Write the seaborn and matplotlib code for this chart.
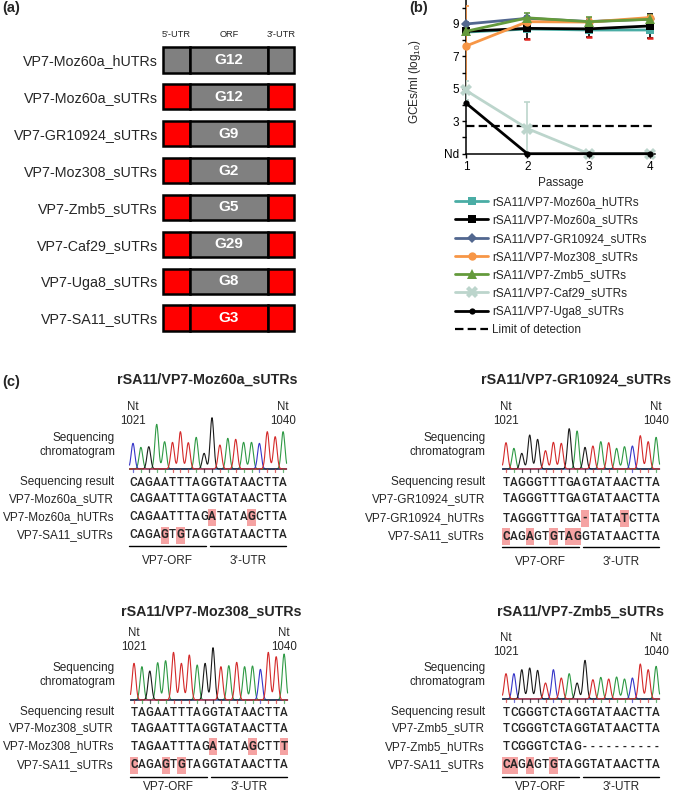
import numpy as np
import pandas as pd
import matplotlib
matplotlib.use("Agg")
import matplotlib.pyplot as plt
from matplotlib.patches import Rectangle
import seaborn as sns

# ---------------- data: panel (a) ----------------
constructs = ["VP7-Moz60a_hUTRs", "VP7-Moz60a_sUTRs", "VP7-GR10924_sUTRs", "VP7-Moz308_sUTRs",
              "VP7-Zmb5_sUTRs", "VP7-Caf29_sUTRs", "VP7-Uga8_sUTRs", "VP7-SA11_sUTRs"]
genotypes = ["G12", "G12", "G9", "G2", "G5", "G29", "G8", "G3"]
utr_origin = ["heterologous", "SA11", "SA11", "SA11", "SA11", "SA11", "SA11", "SA11"]
orf_origin = ["heterologous"] * 7 + ["SA11"]
segment_names = ["5'-UTR", "ORF", "3'-UTR"]

# ---------------- data: panel (b) ----------------
passages = [1, 2, 3, 4]
series_names = ["rSA11/VP7-Moz60a_hUTRs", "rSA11/VP7-Moz60a_sUTRs", "rSA11/VP7-GR10924_sUTRs",
                "rSA11/VP7-Moz308_sUTRs", "rSA11/VP7-Zmb5_sUTRs", "rSA11/VP7-Caf29_sUTRs",
                "rSA11/VP7-Uga8_sUTRs"]
titer_moz60a_h = [8.50, 8.69, 8.63, 8.63]
titer_moz60a_s = [8.55, 8.73, 8.70, 8.88]
titer_gr10924 = [9.00, 9.35, 9.15, 9.30]
titer_moz308 = [7.64, 9.14, 9.12, 9.40]
titer_zmb5 = [8.55, 9.38, 9.14, 9.29]
titer_caf29 = [4.90, 2.55, 1.0, 1.0]
titer_uga8 = [4.12, 1.0, 1.0, 1.0]
err_moz60a_h = [0.10, 0.10, 0.10, 0.15]
err_moz60a_s = [0.15, 0.65, 0.50, 0.75]
err_gr10924 = [0.10, 0.15, 0.10, 0.10]
err_moz308 = [2.50, 0.20, 0.25, 0.15]
err_zmb5 = [0.25, 0.30, 0.30, 0.25]
err_caf29 = [0.60, 1.65, 0.0, 0.0]
err_uga8 = [0.0, 0.0, 0.0, 0.0]
limit_of_detection = 2.7
ytick_labels = ["Nd", "", "3", "", "5", "", "7", "", "9", ""]

# ---------------- data: panel (c) ----------------
seq_titles = ["rSA11/VP7-Moz60a_sUTRs", "rSA11/VP7-GR10924_sUTRs",
              "rSA11/VP7-Moz308_sUTRs", "rSA11/VP7-Zmb5_sUTRs"]
labels_moz60a = ["Sequencing result", "VP7-Moz60a_sUTR", "VP7-Moz60a_hUTRs", "VP7-SA11_sUTRs"]
seqs_moz60a = ["CAGAATTTAGGTATAACTTA", "CAGAATTTAGGTATAACTTA",
               "CAGAATTTAGATATAGCTTA", "CAGAGTGTAGGTATAACTTA"]
mism_moz60a = [[], [], [10, 15], [4, 6]]
peaks_moz60a = [77, 65, 67, 134, 82, 80, 112, 79, 95, 47, 154, 72, 92, 89, 80, 80, 77, 112, 97, 112]

labels_gr10924 = ["Sequencing result", "VP7-GR10924_sUTR", "VP7-GR10924_hUTRs", "VP7-SA11_sUTRs"]
seqs_gr10924 = ["TAGGGTTTGAGTATAACTTA", "TAGGGTTTGAGTATAACTTA",
                "TAGGGTTTGA-TATATCTTA", "CAGAGTGTAGGTATAACTTA"]
mism_gr10924 = [[], [], [10, 15], [0, 3, 6, 8, 9]]
peaks_gr10924 = [79, 62, 47, 102, 89, 55, 80, 77, 121, 114, 65, 69, 82, 79, 62, 67, 69, 100, 82, 95]

labels_moz308 = ["Sequencing result", "VP7-Moz308_sUTR", "VP7-Moz308_hUTRs", "VP7-SA11_sUTRs"]
seqs_moz308 = ["TAGAATTTAGGTATAACTTA", "TAGAATTTAGGTATAACTTA",
               "TAGAATTTAGATATAGCTTT", "CAGAGTGTAGGTATAACTTA"]
mism_moz308 = [[], [], [10, 15, 19], [0, 4, 6]]
peaks_moz308 = [110, 100, 87, 112, 118, 143, 110, 135, 105, 110, 157, 100, 103, 113, 100, 102, 92, 143, 130, 138]

labels_zmb5 = ["Sequencing result", "VP7-Zmb5_sUTR", "VP7-Zmb5_hUTRs", "VP7-SA11_sUTRs"]
seqs_zmb5 = ["TCGGGTCTAGGTATAACTTA", "TCGGGTCTAGGTATAACTTA",
             "TCGGGTCTAG----------", "CAGAGTGTAGGTATAACTTA"]
mism_zmb5 = [[], [], [], [0, 1, 3, 6]]
peaks_zmb5 = [76, 76, 88, 93, 86, 48, 88, 63, 76, 48, 116, 58, 65, 60, 66, 60, 63, 105, 88, 98]

nt_start, nt_end = 1021, 1040
region_labels = ["VP7-ORF", "3\u2018-UTR"]
orf_length = 10

# ---------------- style ----------------
sns.set_style("white")
plt.rcParams["font.family"] = ["Liberation Sans", "DejaVu Sans"]
plt.rcParams["mathtext.default"] = "regular"

W, H = 673, 795
fig = plt.figure(figsize=(W / 100, H / 100), dpi=100)

RED = "#FF0000"
GRAY = "#808080"

# full-figure canvas in pixel units (for panel labels and panel c)
canvas = fig.add_axes([0, 0, 1, 1], zorder=0)
canvas.set_xlim(0, W)
canvas.set_ylim(H, 0)
canvas.axis("off")
canvas.patch.set_alpha(0)

for lab, (x, y) in zip(["(a)", "(b)", "(c)"], [(2, 8), (409, 8), (2, 382)]):
    canvas.text(x, y, lab, fontsize=10.5, fontweight="bold", ha="left", va="center")

# ---------------- panel (a) ----------------
row_px = 36.86
axA = fig.add_axes([163 / W, 1 - (318 + row_px / 2) / H, 131 / W, (318 - 60 + row_px) / H])
rows = np.arange(len(constructs))
utr_cols = [RED if o == "SA11" else GRAY for o in utr_origin]
orf_cols = [RED if o == "SA11" else GRAY for o in orf_origin]
seg_left = [0, 27, 105]
seg_width = [27, 78, 26]
seg_cols = [utr_cols, orf_cols, utr_cols]
for left, width, cols in zip(seg_left, seg_width, seg_cols):
    axA.barh(rows, width, left=left, height=0.68, color=cols, edgecolor="black",
             linewidth=1.8, clip_on=False)
for r, g in zip(rows, genotypes):
    axA.text(seg_left[1] + seg_width[1] / 2, r, g, ha="center", va="center",
             color="white", fontweight="bold", fontsize=11)
for left, width, name in zip(seg_left, seg_width, segment_names):
    axA.text(left + width / 2, -0.5 - 7 / row_px, name, ha="center", va="center", fontsize=6.7)
axA.set_xlim(0, 131)
axA.set_ylim(len(constructs) - 0.5, -0.5)
axA.set_yticks(rows, constructs)
axA.set_xticks([])
axA.tick_params(axis="y", length=0, pad=3.6, labelsize=10.3)
for s in axA.spines.values():
    s.set_visible(False)

# ---------------- panel (b) ----------------
axB = fig.add_axes([466 / W, 1 - 153.7 / H, 189 / W, 153.7 / H])
titers = [titer_moz60a_h, titer_moz60a_s, titer_gr10924, titer_moz308, titer_zmb5, titer_caf29, titer_uga8]
errs = [err_moz60a_h, err_moz60a_s, err_gr10924, err_moz308, err_zmb5, err_caf29, err_uga8]
colors = ["#4AADA5", "#000000", "#52678F", "#F79646", "#649A3C", "#BCD5CC", "#000000"]
markers = ["s", "s", "D", "o", "^", "X", "o"]
msizes = [5.5, 5.5, 5, 6, 6.5, 8, 4.5]

df = pd.DataFrame({
    "passage": np.tile(passages, len(series_names)),
    "titer": np.concatenate(titers),
    "series": np.repeat(series_names, len(passages)),
})
for i, (name, err, c) in enumerate(zip(series_names, errs, colors)):
    sub = df[df["series"] == name]
    ecol = "#7fc0b8" if i == 0 else c
    axB.errorbar(sub["passage"], sub["titer"], yerr=err, fmt="none", ecolor=ecol,
                 elinewidth=1.2, capsize=2.5, capthick=1.2, zorder=2 + i)
# red lower caps seen on the Moz60a_sUTRs error bars
low = np.array(titer_moz60a_s) - np.array(err_moz60a_s)
axB.plot(passages[1:], low[1:], ls="none", marker="_", color="#E0201A", ms=5, mew=1.8, zorder=3)

for i, (name, c, m, ms) in enumerate(zip(series_names, colors, markers, msizes)):
    sub = df[df["series"] == name]
    sns.lineplot(data=sub, x="passage", y="titer", ax=axB, color=c, marker=m, markersize=ms,
                 linewidth=2, markeredgewidth=0, label=name, clip_on=False, zorder=10 + i,
                 errorbar=None)
axB.axhline(limit_of_detection, color="black", lw=1.6, ls=(0, (3.8, 1.9)),
            label="Limit of detection", zorder=5)
if axB.get_legend() is not None:
    axB.get_legend().remove()

axB.set_xlim(1, 4.08)
axB.set_ylim(1, 10.48)
axB.set_xticks(passages)
axB.set_yticks(range(1, 11), ytick_labels)
axB.tick_params(axis="both", length=3, width=1, direction="out", labelsize=8.5, pad=2,
                left=True, bottom=True, colors="black")
axB.set_xlabel("Passage", fontsize=8.5)
axB.xaxis.set_label_coords(0.5, -0.15)
axB.set_ylabel("GCEs/ml (log$_{10}$)", fontsize=8.5)
axB.yaxis.set_label_coords(-0.225, 0.47)
for side in ["top", "right"]:
    axB.spines[side].set_visible(False)
for side in ["left", "bottom"]:
    axB.spines[side].set_color("black")
    axB.spines[side].set_linewidth(1.1)

handles, labels = axB.get_legend_handles_labels()
fig.legend(handles, labels, loc="upper left", bbox_to_anchor=(455 / W, 1 - 196.2 / H),
           bbox_transform=fig.transFigure, frameon=False, fontsize=8.5, borderpad=0,
           borderaxespad=0, labelspacing=0.53, handlelength=2.8, handletextpad=0.34)

# ---------------- panel (c) ----------------
base_colors = {"A": "#2F9A45", "C": "#3535C8", "G": "#1A1A1A", "T": "#D42A2A"}
step = 7.9
sigma = 1.8
seq_font = ["Roboto", "DejaVu Sans"]

panels = [
    (seq_titles[0], labels_moz60a, seqs_moz60a, mism_moz60a, peaks_moz60a,
     dict(title=(207, 380), nt_y=(407, 421), sl_y=(438, 452), lab_x=115, c0=133, base=469,
          rows=[482, 499, 517, 535], ul=546, ul_lab=561)),
    (seq_titles[1], labels_gr10924, seqs_gr10924, mism_gr10924, peaks_gr10924,
     dict(title=(576, 380), nt_y=(407, 421), sl_y=(438, 452), lab_x=486, c0=506, base=469,
          rows=[482, 499, 518, 536], ul=547, ul_lab=562)),
    (seq_titles[2], labels_moz308, seqs_moz308, mism_moz308, peaks_moz308,
     dict(title=(211, 612), nt_y=(633, 647), sl_y=(668, 682), lab_x=115, c0=134, base=700,
          rows=[712, 728, 746, 765], ul=777, ul_lab=787)),
    (seq_titles[3], labels_zmb5, seqs_zmb5, mism_zmb5, peaks_zmb5,
     dict(title=(581, 612), nt_y=(638, 652), sl_y=(668, 682), lab_x=486, c0=506, base=699,
          rows=[712, 728, 747, 765], ul=777, ul_lab=787)),
]

for title, rlabels, seqs, mism, peaks, L in panels:
    n = len(seqs[0])
    xs = L["c0"] + step * np.arange(n)
    canvas.text(L["title"][0], L["title"][1], title, ha="center", va="center",
                fontsize=10.3, fontweight="bold")
    for xpos, nt in [(xs[0], nt_start), (xs[-1], nt_end)]:
        canvas.text(xpos, L["nt_y"][0], "Nt", ha="center", va="center", fontsize=8.3)
        canvas.text(xpos, L["nt_y"][1], str(nt), ha="center", va="center", fontsize=8.3)
    canvas.text(L["lab_x"], L["sl_y"][0], "Sequencing", ha="right", va="center", fontsize=8.5)
    canvas.text(L["lab_x"], L["sl_y"][1], "chromatogram", ha="right", va="center", fontsize=8.5)
    # chromatogram traces
    grid = np.linspace(xs[0] - 3.5, xs[-1] + 3.5, 800)
    result = seqs[0]
    for b in ["A", "C", "G", "T"]:
        trace = np.zeros_like(grid)
        for xi, ch, h in zip(xs, result, peaks):
            if ch == b:
                trace += h / 3 * np.exp(-(grid - xi) ** 2 / (2 * sigma ** 2))
        canvas.plot(grid, L["base"] - trace, color=base_colors[b], lw=0.8)
    for xi, ch in zip(xs, result):
        canvas.plot([xi, xi], [L["base"], L["base"] + 2.5], color=base_colors[ch], lw=0.9, alpha=0.7)
    # sequence rows
    for ry, lab, s, mm in zip(L["rows"], rlabels, seqs, mism):
        canvas.text(L["lab_x"] - 1, ry, lab, ha="right", va="center", fontsize=8.5)
        for k in mm:
            canvas.add_patch(Rectangle((xs[k] - 4.1, ry - 8.5), 8.2, 17, facecolor="#F5A3A3",
                                       edgecolor="none", zorder=1))
        for k, ch in enumerate(s):
            canvas.text(xs[k], ry, ch, ha="center", va="center", fontsize=8.4,
                        family=seq_font,
                        fontweight="bold" if k in mm else "medium", zorder=2)
    # region underlines
    orf_x = (xs[0] - 4.5, xs[orf_length - 1] + 1.5)
    utr_x = (xs[orf_length] - 2, xs[-1] + 2.5)
    for (a, b2), rl in zip([orf_x, utr_x], region_labels):
        canvas.plot([a, b2], [L["ul"], L["ul"]], color="black", lw=1.0)
        canvas.text((a + b2) / 2, L["ul_lab"], rl, ha="center", va="center", fontsize=8.5)

fig.savefig("out.png", dpi=100)
